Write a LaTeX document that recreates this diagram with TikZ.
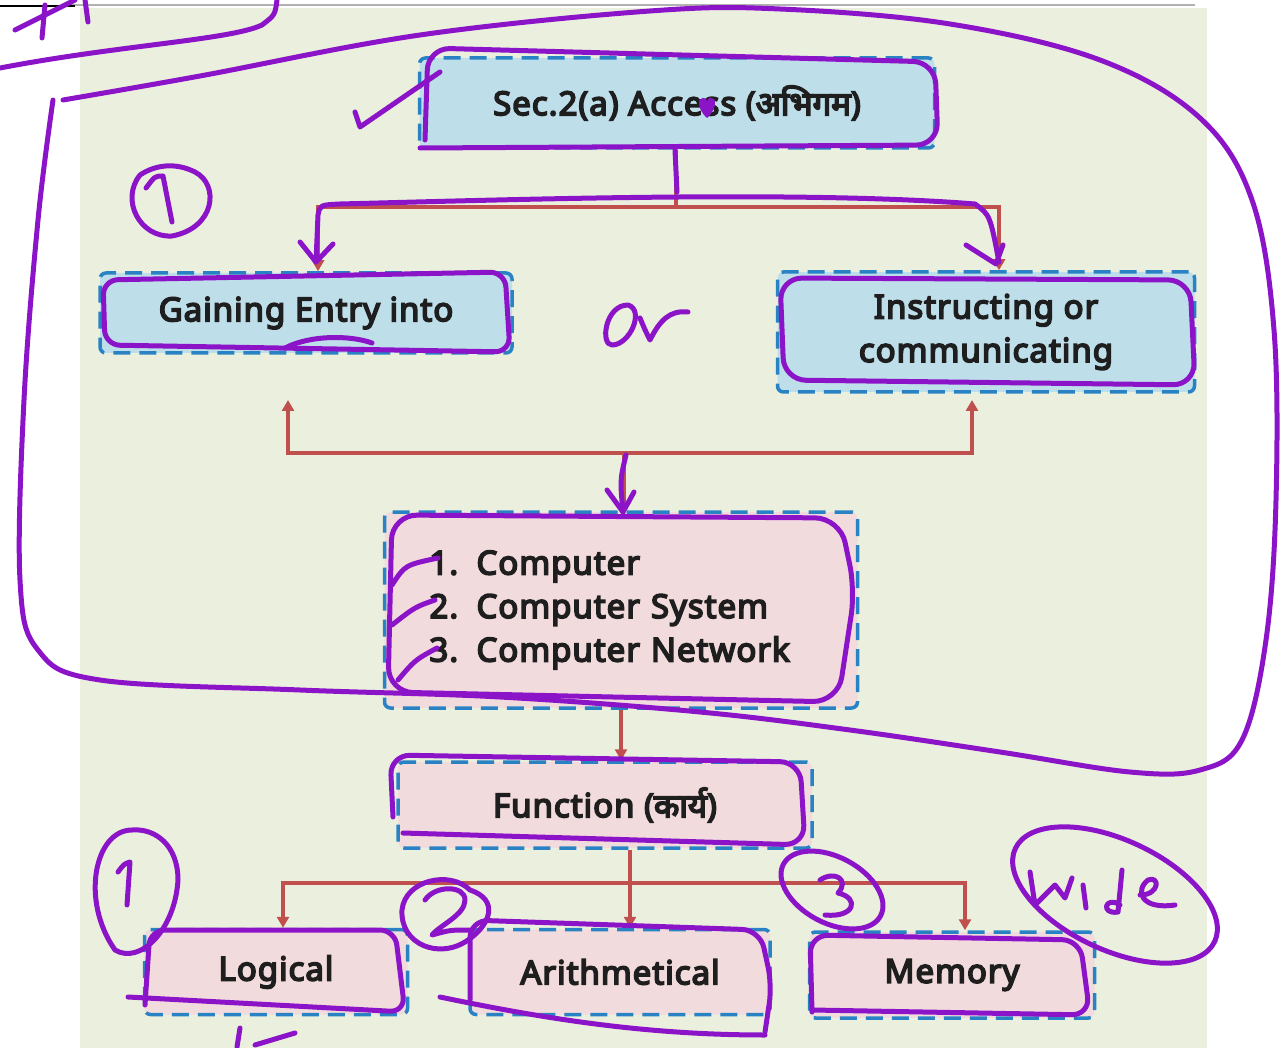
\documentclass[tikz,border=0pt]{standalone}
\usepackage{fontspec}
\setmainfont{Noto Sans}[FakeBold=5,LetterSpace=3]
\newfontfamily\hindi{Noto Sans}[Script=Devanagari,FakeBold=5]
\usetikzlibrary{arrows.meta,positioning}
\definecolor{bggreen}{RGB}{235,240,222}
\definecolor{boxblue}{RGB}{190,222,234}
\definecolor{boxpink}{RGB}{242,219,220}
\definecolor{dashblue}{RGB}{40,130,195}
\definecolor{arrowred}{RGB}{192,80,77}
\definecolor{inkpurple}{RGB}{140,20,200}
\definecolor{textdark}{RGB}{30,30,30}
\newcommand{\boxfont}{\fontsize{33}{43.5}\selectfont}
\begin{document}
\begin{tikzpicture}[x=1pt,y=-1pt,
    box/.style={draw=dashblue, line width=3.5pt, dash pattern=on 17pt off 9pt,
        rounded corners=6pt, inner sep=0pt, align=center, text=textdark, font=\boxfont},
    bluebox/.style={box, fill=boxblue},
    pinkbox/.style={box, fill=boxpink},
    conn/.style={draw=arrowred, line width=4.5pt},
    arr/.style={conn, -{Triangle[length=11pt,width=12pt]}},
    ink/.style={draw=inkpurple, line width=5pt, line cap=round, line join=round}]
        \useasboundingbox (0,0) rectangle (1280,1048);
        \fill[bggreen] (80,8) rectangle (1207,1048);
        \draw[gray!60, line width=1.5pt] (70,5) -- (1195,5);
        \draw[black, line width=2pt] (0,6) -- (75,6);
        % boxes
        \node[bluebox, minimum width=515pt, minimum height=90pt] (access) at (677,103) {Sec.2(a) Access ({\hindi अभिगम})};
        \node[bluebox, minimum width=412pt, minimum height=80pt] (gain) at (306,313) {Gaining Entry into};
        \node[bluebox, minimum width=417pt, minimum height=120pt] (instr) at (986,332) {Instructing or\\communicating};
        \node[pinkbox, minimum width=473pt, minimum height=196pt, text width=383pt, inner xsep=45pt, align=left] (comp) at (621,610)
            {\makebox[47pt][l]{1.}Computer\\\makebox[47pt][l]{2.}Computer System\\\makebox[47pt][l]{3.}Computer Network};
        \node[pinkbox, minimum width=414pt, minimum height=86pt] (func) at (605,805) {Function ({\hindi कार्य})};
        \node[pinkbox, minimum width=263pt, minimum height=85pt] (logic) at (276,972) {Logical};
        \node[pinkbox, minimum width=300pt, minimum height=85pt] (arith) at (620,972) {Arithmetical};
        \node[pinkbox, minimum width=285pt, minimum height=86pt] (mem) at (952,975) {Memory};
        % connectors
        \coordinate (splitA) at (676,207);
        \draw[conn] (access.south -| splitA) -- (splitA);
        \draw[arr] (splitA) -| ([xshift=12pt]gain.north);
        \draw[arr] (splitA) -| ([xshift=13pt]instr.north);
        \coordinate (splitC) at (624,453);
        \coordinate (tipG) at (288,400);
        \coordinate (tipI) at (972,400);
        \draw[conn] (comp.north -| splitC) -- (splitC);
        \draw[arr] (splitC) -| (tipG);
        \draw[arr] (splitC) -| (tipI);
        \draw[arr] (comp.south) -- (comp.south |- func.north);
        \coordinate (splitF) at (630,883);
        \draw[conn] (func.south -| splitF) -- (splitF);
        \draw[arr] (splitF) -| ([xshift=7pt]logic.north);
        \draw[arr] (splitF) -| ([xshift=10pt]arith.north);
        \draw[arr] (splitF) -| ([xshift=13pt]mem.north);
        % ink marks
        \draw[ink] plot[smooth, tension=0.6] coordinates {(63,100) (200,76) (420,35) (650,11) (780,9) (950,24) (1100,60)
            (1200,118) (1252,200) (1274,330) (1276,500) (1266,640) (1242,740) (1200,770) (1130,772) (1000,752)
            (850,730) (700,712) (500,697) (300,690) (100,680) (38,650) (20,580) (24,400) (38,220) (53,100)};
        \draw[ink] (0,68) .. controls (120,45) and (230,40) .. (262,25) .. controls (275,15) .. (277,0);
        \draw[ink] (15,30) -- (75,0);
        \draw[ink] (42,38) -- (45,5);
        \draw[ink] (88,22) -- (85,0);
        \draw[ink] (355,112) -- (360,127) -- (440,72);
        \draw[ink, rounded corners=22pt] (425,140) -- (428,48) -- (935,62) -- (938,145) -- (420,148);
        \fill[inkpurple] (707,118) .. controls (696,108) and (698,97) .. (703,98) .. controls (706,98) .. (707,102)
            .. controls (708,98) .. (711,98) .. controls (716,97) and (718,108) .. (707,118);
        \draw[ink] (675,150) -- (677,192);
        \draw[ink] (316,262) -- (318,215) .. controls (320,205) .. (340,204) .. controls (500,200) and (800,190) .. (975,204)
            .. controls (990,215) .. (999,262);
        \draw[ink] (300,242) -- (316,262) -- (333,244);
        \draw[ink] (966,245) -- (996,264) -- (1003,245);
        \draw[ink] (628,305) .. controls (605,305) and (600,345) .. (612,345) .. controls (630,345) and (645,310) .. (628,305);
        \draw[ink] (640,318) .. controls (645,330) .. (650,340) .. controls (660,320) and (670,310) .. (688,312);
        \draw[ink] (140,175) .. controls (120,200) and (140,238) .. (172,236) .. controls (215,228) and (220,185) .. (195,172)
            .. controls (175,162) and (155,165) .. (140,175);
        \draw[ink] (146,188) .. controls (155,176) .. (163,176) -- (172,222);
        \draw[ink, rounded corners=15pt] (103,280) -- (505,272) -- (510,352) -- (105,345) -- cycle;
        \draw[ink] (285,348) .. controls (310,335) and (350,335) .. (372,343);
        \draw[ink, rounded corners=22pt] (780,278) -- (1190,280) -- (1195,385) -- (784,380) -- cycle;
        \draw[ink] (626,455) .. controls (620,480) .. (623,512);
        \draw[ink] (607,490) -- (623,512) -- (634,492);
        \draw[ink, rounded corners=25pt] (392,515) -- (840,518) -- (855,590) -- (838,702) -- (388,692) -- cycle;
        \draw[ink] (392,585) .. controls (405,565) .. (438,558);
        \draw[ink] (392,625) .. controls (415,607) .. (435,600);
        \draw[ink] (398,680) .. controls (415,660) .. (437,648);
        \draw[ink, rounded corners=20pt] (393,817) -- (390,755) -- (800,762) -- (805,845) -- (403,833);
        \draw[ink] (132,830) .. controls (95,830) and (80,900) .. (115,950) .. controls (140,965) and (175,930) .. (178,880)
            .. controls (178,845) and (155,828) .. (132,830);
        \draw[ink] (118,872) .. controls (124,864) .. (130,862) -- (127,905);
        \draw[ink, rounded corners=15pt] (145,1005) -- (150,930) -- (395,930) -- (405,1012) -- (128,997);
        \draw[ink] (237,1047) -- (240,1028);
        \draw[ink] (255,1045) -- (295,1033);
        \draw[ink] (470,890) .. controls (450,870) and (405,880) .. (402,910) .. controls (400,945) and (440,960) .. (468,940)
            .. controls (490,925) and (500,900) .. (470,890);
        \draw[ink] (425,900) .. controls (435,885) and (465,885) .. (465,900) .. controls (465,915) and (440,925) .. (432,935)
            .. controls (450,930) .. (470,930);
        \draw[ink, rounded corners=18pt] (470,1000) -- (470,920) -- (760,930) -- (772,985) -- (765,1032);
        \draw[ink] (440,997) .. controls (550,1020) and (650,1035) .. (765,1035);
        \draw[ink, rotate around={-28:(832,890)}] (832,890) ellipse [x radius=55pt, y radius=33pt];
        \draw[ink] (820,880) .. controls (835,870) and (850,880) .. (838,893) .. controls (860,898) and (855,918) .. (825,915);
        \draw[ink, rounded corners=18pt] (812,1012) -- (810,935) -- (1080,940) -- (1090,1015) -- (812,1010);
        \draw[ink, rotate around={-25:(1115,895)}] (1115,895) ellipse [x radius=110pt, y radius=55pt];
        \draw[ink] (1030,872) -- (1035,905) -- (1055,885) -- (1065,898) -- (1072,878);
        \draw[ink] (1083,885) -- (1086,908);
        \draw[ink] (1120,905) .. controls (1105,895) and (1100,915) .. (1118,912) -- (1122,870);
        \draw[ink] (1140,895) .. controls (1160,895) and (1160,875) .. (1148,880) .. controls (1135,890) and (1140,910) .. (1175,905);
\end{tikzpicture}
\end{document}
